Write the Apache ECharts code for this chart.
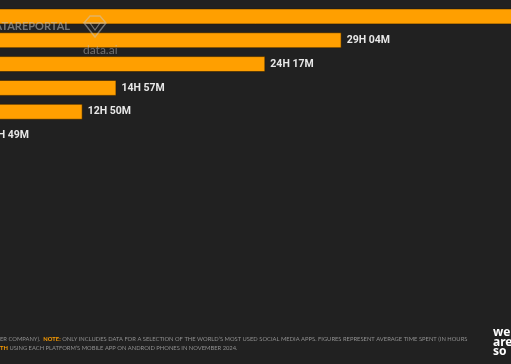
<!DOCTYPE html>
<html><head><meta charset="utf-8">
<script src="https://cdn.jsdelivr.net/npm/echarts@6/dist/echarts.min.js"></script>
<style>html,body{margin:0;padding:0;background:#212121;}#c{width:511px;height:364px;}</style>
</head><body><div id="c"></div>
<script>
// Categories (their names are cropped off the left edge of the reference)
const categories = ['TikTok', 'YouTube', 'Facebook', 'WhatsApp', 'Instagram', 'LINE'];
// Average time spent per month, in minutes (first bar runs past the right edge)
const minutesSpent = [2460, 29*60+4, 24*60+17, 14*60+57, 12*60+50, 6*60+49];
// Visible window of the value axis (the reference is a crop of a wider chart)
const axisMinMinutes = 459;
const axisMaxMinutes = 2381;

function fmt(m){ const h = Math.floor(m/60), mm = m%60; return h + 'H ' + (mm<10?'0':'') + mm + 'M'; }

const chart = echarts.init(document.getElementById('c'), null, {renderer:'canvas'});
chart.setOption({
  backgroundColor: '#212121',
  animation: false,
  grid: { left: 0, right: 0, top: 4.5, height: 143, containLabel: false },
  xAxis: { type: 'value', min: axisMinMinutes, max: axisMaxMinutes, show: false },
  yAxis: { type: 'category', data: categories, inverse: true, show: false },
  series: [{
    type: 'bar', data: minutesSpent, barWidth: 16, clip: false,
    itemStyle: { color: '#ff9f00', borderColor: 'rgba(40,25,0,0.55)', borderWidth: 1 },
    label: { show: true, position: 'right', distance: 5, color: '#e8e8e8',
      fontFamily: 'Roboto', fontWeight: 'bold', fontSize: 10.5,
      formatter: p => fmt(p.value) }
  }],
  graphic: [
    { type: 'text', right: 441, top: 21, z: 100, style: { text: 'DATAREPORTAL', fill: 'rgba(190,190,190,0.55)', font: 'bold 11px Lato' } },
    { type: 'polyline', z: 100, shape: { points: [[84,23],[90,16],[100,16],[106,23],[95,37],[84,23],[106,23]] },
      style: { stroke: 'rgba(200,200,200,0.5)', lineWidth: 1.4, fill: null } },
    { type: 'polyline', z: 100, shape: { points: [[90,23],[95,30],[100,23]] },
      style: { stroke: 'rgba(200,200,200,0.5)', lineWidth: 1.2, fill: null } },
    { type: 'text', left: 83, top: 44, z: 100, style: { text: 'data.ai', fill: 'rgba(190,190,190,0.5)', font: '12px Lato' } },
    { type: 'text', left: 0, top: 336, style: {
        text: '{g|ER COMPANY).  }{o|NOTE:}{g| ONLY INCLUDES DATA FOR A SELECTION OF THE WORLD\u2019S MOST USED SOCIAL MEDIA APPS. FIGURES REPRESENT AVERAGE TIME SPENT (IN HOURS}',
        rich: { g: { fill: '#8f8f8f', font: '5.8px Lato' }, o: { fill: '#ff9f00', font: 'bold 5.8px Lato' } } } },
    { type: 'text', left: 0, top: 345, style: {
        text: '{o|TH}{g| USING EACH PLATFORM\u2019S MOBILE APP ON ANDROID PHONES IN NOVEMBER 2024.}',
        rich: { g: { fill: '#8f8f8f', font: '5.8px Lato' }, o: { fill: '#ff9f00', font: 'bold 5.8px Lato' } } } },
    { type: 'text', left: 493, top: 327, style: { text: 'we\nare\nso', fill: '#ffffff', font: 'bold 12px "Noto Sans"', lineHeight: 9.5 } }
  ]
});
</script></body></html>
